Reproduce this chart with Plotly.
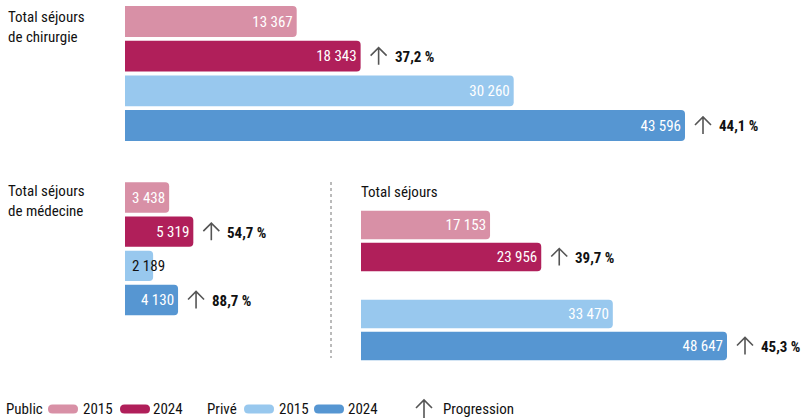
import plotly.graph_objects as go

# ---- data -------------------------------------------------------------
years = ["2015", "2024"]
sectors = ["Public", "Privé"]

chirurgie_public = [13367, 18343]
chirurgie_prive = [30260, 43596]
medecine_public = [3438, 5319]
medecine_prive = [2189, 4130]
total_public = [17153, 23956]
total_prive = [33470, 48647]

panel_titles = ["Total séjours<br>de chirurgie", "Total séjours<br>de médecine", "Total séjours"]

colors = {
    ("Public", "2015"): "#D890A6",
    ("Public", "2024"): "#B01F5A",
    ("Privé", "2015"): "#98C8EE",
    ("Privé", "2024"): "#5696D2",
}

FONT = "Roboto Condensed, Roboto, sans-serif"
W, H = 805, 420
ARROW_GREY = "#555555"
INK = "#111111"


def fmt_int(v):
    return f"{v:,}".replace(",", " ")


def fmt_pct(a, b):
    return f"{(b / a - 1) * 100:.1f}".replace(".", ",") + " %"


def px_x(p):
    return p / W


def px_y(p):
    return 1 - p / H


fig = go.Figure()
annotations = []
shapes = []

# panel layout: (public, prive, x axis, y axis, offset of the Privé group)
panels = [
    (chirurgie_public, chirurgie_prive, "x", "y", 2.0),
    (medecine_public, medecine_prive, "x2", "y2", 2.0),
    (total_public, total_prive, "x3", "y3", 2.78),
]

for public, prive, xa, ya, group_step in panels:
    for g, (sector, vals) in enumerate(zip(sectors, [public, prive])):
        for k, (yr, v) in enumerate(zip(years, vals)):
            ypos = g * group_step + k
            label = fmt_int(v)
            small = v < 3000
            fig.add_trace(go.Bar(
                x=[v], y=[ypos], orientation="h",
                xaxis=xa, yaxis=ya,
                marker=dict(color=colors[(sector, yr)], line=dict(width=0)),
                width=0.89,
                text=[" " if small else label],
                textposition="inside", insidetextanchor="end",
                textfont=dict(color="white", size=15, family=FONT),
                constraintext="none",
                hoverinfo="skip", showlegend=False,
            ))
            if small:
                annotations.append(dict(
                    x=v, y=ypos, xref=xa, yref=ya, text=label,
                    showarrow=False, xanchor="center", xshift=-5,
                    font=dict(color=INK, size=15, family=FONT),
                ))
        # progression arrow + percentage next to the 2024 bar
        ypos = g * group_step + 1
        shapes.append(dict(
            type="path", xref=xa, yref=ya,
            xsizemode="pixel", ysizemode="pixel",
            xanchor=vals[1], yanchor=ypos,
            path="M 18,-8.5 L 18,8.5 M 10,0.5 L 18,8.5 L 26,0.5",
            line=dict(color=ARROW_GREY, width=1.6),
        ))
        annotations.append(dict(
            x=vals[1], y=ypos, xref=xa, yref=ya,
            text="<b>" + fmt_pct(vals[0], vals[1]) + "</b>",
            showarrow=False, xanchor="left", xshift=32, yshift=-1,
            font=dict(color=INK, size=15, family=FONT),
        ))

# panel titles
title_font = dict(size=15, color=INK, family=FONT)
annotations += [
    dict(x=px_x(6), y=px_y(6), xref="paper", yref="paper", text=panel_titles[0],
         showarrow=False, xanchor="left", yanchor="top", align="left", font=title_font),
    dict(x=px_x(6), y=px_y(180), xref="paper", yref="paper", text=panel_titles[1],
         showarrow=False, xanchor="left", yanchor="top", align="left", font=title_font),
    dict(x=px_x(359), y=px_y(181), xref="paper", yref="paper", text=panel_titles[2],
         showarrow=False, xanchor="left", yanchor="top", align="left", font=title_font),
]

# dotted separator between médecine and total
shapes.append(dict(type="line", xref="paper", yref="paper",
                   x0=px_x(331), x1=px_x(331), y0=px_y(182), y1=px_y(358),
                   line=dict(color="#777777", width=1, dash="dot")))

# ---- legend -----------------------------------------------------------
LEG_Y = 409


def pill(x0, x1, color):
    r = 4.5
    w = x1 - x0
    return dict(type="path", xref="paper", yref="paper",
                xsizemode="pixel", ysizemode="pixel",
                xanchor=px_x(x0), yanchor=px_y(LEG_Y),
                path=(f"M {r},{-r} L {w - r},{-r} Q {w},{-r} {w},0 Q {w},{r} {w - r},{r} "
                      f"L {r},{r} Q 0,{r} 0,0 Q 0,{-r} {r},{-r} Z"),
                fillcolor=color, line=dict(width=0))


def leg_text(x, txt):
    return dict(x=px_x(x), y=px_y(LEG_Y), xref="paper", yref="paper", text=txt,
                showarrow=False, xanchor="left", yanchor="middle",
                font=dict(size=15, color=INK, family=FONT))


shapes += [
    pill(48, 78, colors[("Public", "2015")]),
    pill(120, 150, colors[("Public", "2024")]),
    pill(244, 274, colors[("Privé", "2015")]),
    pill(314, 344, colors[("Privé", "2024")]),
    dict(type="path", xref="paper", yref="paper",
         xsizemode="pixel", ysizemode="pixel",
         xanchor=px_x(424), yanchor=px_y(LEG_Y),
         path="M 0,-9 L 0,9 M -8,1 L 0,9 L 8,1",
         line=dict(color=ARROW_GREY, width=1.6)),
]
annotations += [
    leg_text(4, "Public"), leg_text(81, years[0]), leg_text(151, years[1]),
    leg_text(205, "Privé"), leg_text(277, years[0]), leg_text(346, years[1]),
    leg_text(441, "Progression"),
]

# ---- axes -------------------------------------------------------------
# left panels: 43 596 spans 560 px from x=125
left_max = (W - 125) * 43596 / 560
# total panel: 48 647 spans 366 px from x=361
right_max = (W - 361) * 48647 / 366

hidden = dict(visible=False, showgrid=False, zeroline=False, fixedrange=True)


def yaxis_for(center_first, center_last, n_last):
    pitch = (center_last - center_first) / n_last
    top = center_first - pitch / 2
    bottom = center_last + pitch / 2
    return dict(hidden, range=[n_last + 0.5, -0.5],
                domain=[px_y(bottom), px_y(top)])


fig.update_layout(
    width=W, height=H,
    margin=dict(l=0, r=0, t=0, b=0),
    paper_bgcolor="white", plot_bgcolor="rgba(0,0,0,0)",
    barmode="overlay", barcornerradius=4,
    xaxis=dict(hidden, domain=[px_x(125), 1], range=[0, left_max]),
    xaxis2=dict(hidden, domain=[px_x(125), 1], range=[0, left_max]),
    xaxis3=dict(hidden, domain=[px_x(361), 1], range=[0, right_max]),
    yaxis=dict(yaxis_for(21.5, 125.5, 3), anchor="x"),
    yaxis2=dict(yaxis_for(197.5, 300, 3), anchor="x2"),
    yaxis3=dict(yaxis_for(225, 346, 3.78), anchor="x3"),
    annotations=annotations,
    shapes=shapes,
    font=dict(family=FONT),
)

fig.write_html("out.html")
